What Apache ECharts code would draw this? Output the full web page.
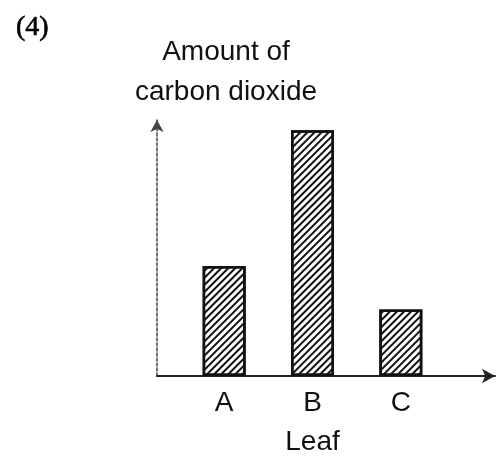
<!DOCTYPE html>
<html>
<head>
<meta charset="utf-8">
<script src="https://cdn.jsdelivr.net/npm/echarts@6/dist/echarts.min.js"></script>
<style>
  html, body { margin: 0; padding: 0; background: #fff; }
  #chart { width: 496px; height: 461px; }
</style>
</head>
<body>
<div id="chart"></div>
<script>
// leaf samples and the carbon dioxide (no scale given, 0-10)
var leaves = ['A', 'B', 'C']
var co2 = [4.3, 9.6, 2.6]

var yTitle = 'Amount of\ncarbon dioxide'
var xTitle = 'Leaf'
var label = '(4)'

var chart = echarts.init(document.getElementById('chart'))
var sans = "'Liberation Sans', Arial, sans-serif"

chart.setOption({
  animation: false,
  title: [{
    text: label,
    left: 11,
    top: 9,
    textStyle: { fontFamily: "'Liberation Serif', serif", fontSize: 28, fontWeight: 'normal', color: '#000', textBorderColor: '#000', textBorderWidth: 0.6 }
  }, {
    text: yTitle,
    left: 221,
    top: 27,
    textAlign: 'center',
    textStyle: { fontFamily: sans, fontSize: 28, fontWeight: 'normal', color: '#111', lineHeight: 40 }
  }],
  grid: [
    // axis frame with arrows
    { left: 157, right: 1, top: 120, bottom: 85 },
    // bars
    { left: 180, right: 51, top: 120, bottom: 85 }
  ],
  xAxis: [{
    gridIndex: 0,
    type: 'value',
    min: 0,
    max: 1,
    axisLine: {
      show: true,
      symbol: ['none', 'arrow'],
      symbolSize: [11, 13],
      lineStyle: { color: '#222', width: 2 }
    },
    axisTick: { show: false },
    axisLabel: { show: false },
    splitLine: { show: false }
  }, {
    gridIndex: 1,
    type: 'category',
    data: leaves,
    axisLine: { show: false },
    axisTick: { show: false },
    axisLabel: { fontFamily: sans, fontSize: 28, color: '#111', margin: 13 },
    name: xTitle,
    nameLocation: 'middle',
    nameGap: 52,
    nameTextStyle: { fontFamily: sans, fontSize: 28, color: '#111' }
  }],
  yAxis: [{
    gridIndex: 0,
    type: 'value',
    min: 0,
    max: 10,
    axisLine: {
      show: true,
      symbol: ['none', 'arrow'],
      symbolSize: [10, 12],
      lineStyle: { color: '#444', width: 1.5, type: [3, 2] }
    },
    axisTick: { show: false },
    axisLabel: { show: false },
    splitLine: { show: false }
  }, {
    gridIndex: 1,
    type: 'value',
    min: 0,
    max: 10,
    show: false
  }],
  series: [{
    type: 'bar',
    xAxisIndex: 1,
    yAxisIndex: 1,
    data: co2,
    barWidth: 43,
    itemStyle: {
      color: '#fff',
      borderColor: '#111',
      borderWidth: 2.5,
      decal: {
        symbol: 'rect',
        symbolSize: 1,
        dashArrayX: [1, 0],
        dashArrayY: [1.9, 2.2],
        rotation: -Math.PI / 4,
        color: '#111'
      }
    }
  }]
})
</script>
</body>
</html>
